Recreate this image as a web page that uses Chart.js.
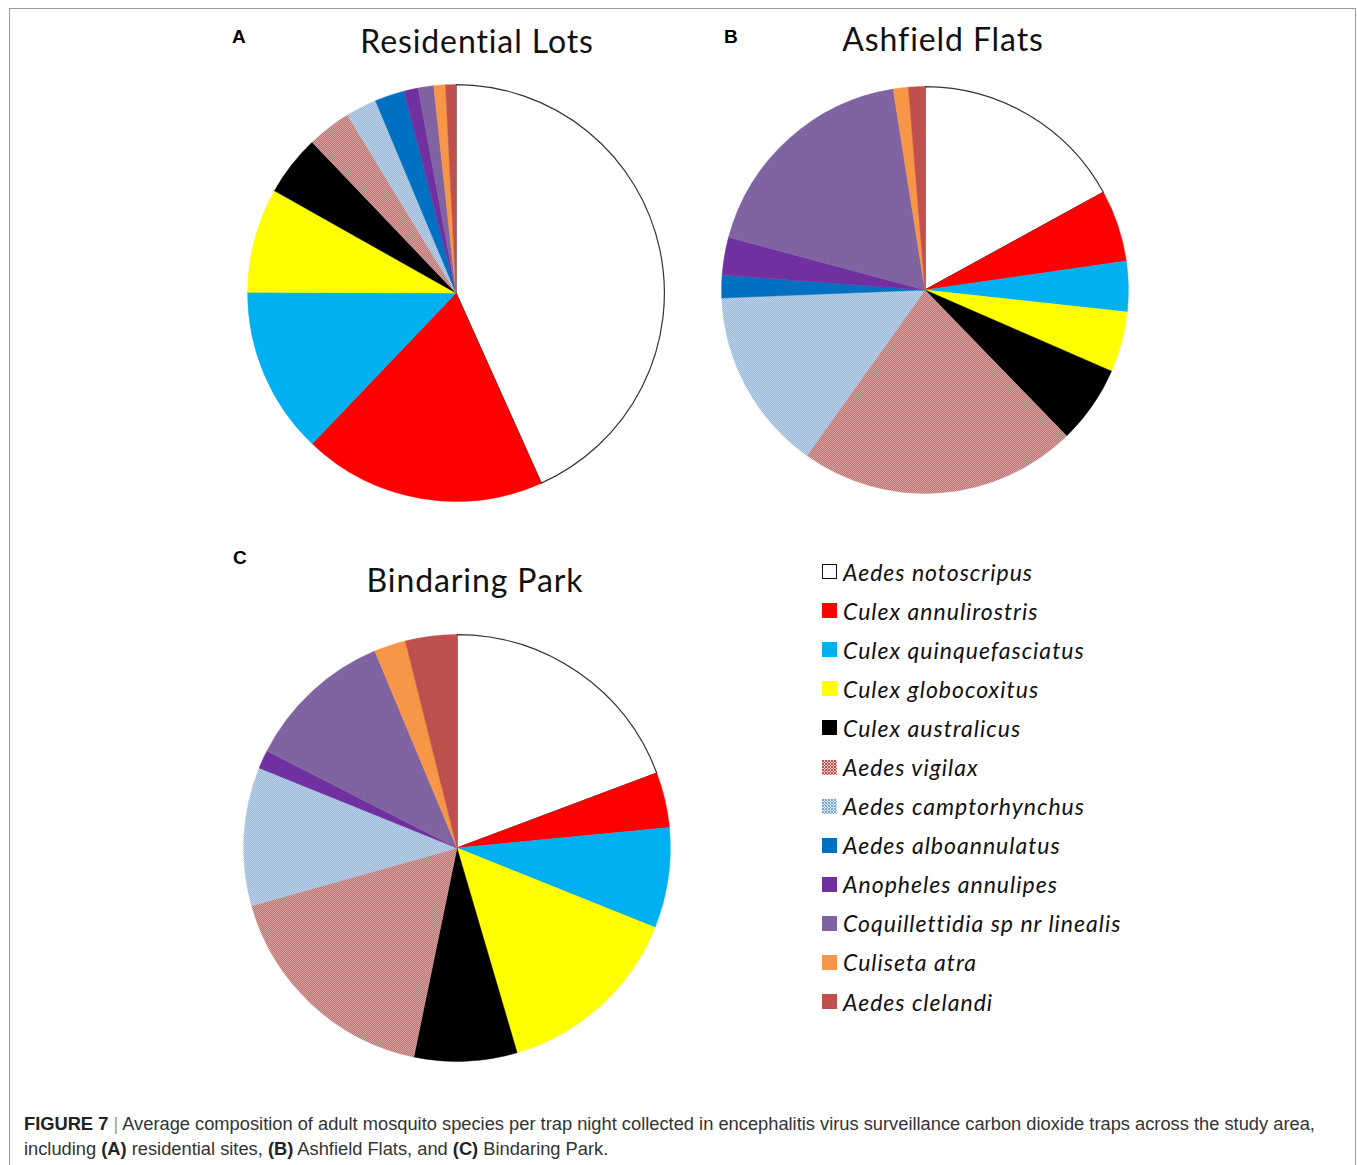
<!DOCTYPE html>
<html>
<head>
<meta charset="utf-8">
<script src="https://cdn.jsdelivr.net/npm/chart.js@4"></script>
<style>
  body { margin: 0; background: #fff; width: 1358px; height: 1165px; overflow: hidden; position: relative; }
  .frame { position: absolute; left: 9px; top: 8px; width: 1345px; height: 1200px; border: 1.5px solid #9a9a9a; border-bottom: none; }
  .pie { position: absolute; }
  .title { position: absolute; font-family: Lato, sans-serif; font-size: 32px; letter-spacing: 0.9px; color: #111; white-space: nowrap; transform: translateX(-50%); }
  .letter { position: absolute; font-family: "Liberation Sans", Arial, sans-serif; font-weight: bold; font-size: 19px; color: #000; }
  #legend { position: absolute; left: 822px; top: 552px; }
  .item { height: 39.1px; display: flex; align-items: center; font-family: Lato, sans-serif; font-style: italic; font-size: 23px; letter-spacing: 1px; color: #111; white-space: nowrap; }
  .box { width: 15px; height: 15px; margin-right: 6px; box-sizing: border-box; flex: none; }
  .caption { position: absolute; left: 24px; top: 1111px; width: 1310px; font-family: "Liberation Sans", Arial, sans-serif; font-size: 18.3px; line-height: 25px; color: #333; }
  .caption b { color: #222; }
  .sep { color: #999; }
</style>
</head>
<body>
<div class="frame"></div>

<div class="letter" style="left:232px; top:26px;">A</div>
<div class="letter" style="left:724px; top:26px;">B</div>
<div class="letter" style="left:233px; top:547px;">C</div>

<div class="title" style="left:477px; top:21px;">Residential Lots</div>
<div class="title" style="left:943px; top:19px;">Ashfield Flats</div>
<div class="title" style="left:475px; top:560px;">Bindaring Park</div>

<div class="pie" style="left:246px; top:83px; width:420px; height:420px;"><canvas id="pieA"></canvas></div>
<div class="pie" style="left:720px; top:85px; width:410px; height:410px;"><canvas id="pieB"></canvas></div>
<div class="pie" style="left:242px; top:633px; width:430px; height:430px;"><canvas id="pieC"></canvas></div>

<div id="legend"></div>

<div class="caption"><b>FIGURE 7</b> <span class="sep">|</span> Average composition of adult mosquito species per trap night collected in encephalitis virus surveillance carbon dioxide traps across the study area, including <b>(A)</b> residential sites, <b>(B)</b> Ashfield Flats, and <b>(C)</b> Bindaring Park.</div>

<script>
// species, in the order the slices run clockwise from 12 o'clock
const species = [
  'Aedes notoscripus', 'Culex annulirostris', 'Culex quinquefasciatus', 'Culex globocoxitus',
  'Culex australicus', 'Aedes vigilax', 'Aedes camptorhynchus', 'Aedes alboannulatus',
  'Anopheles annulipes', 'Coquillettidia sp nr linealis', 'Culiseta atra', 'Aedes clelandi'
];

// percent of catch per trap night
const residentialLots = [43.2, 18.8, 12.9, 8.1, 4.7, 3.4, 2.4, 2.3, 1.1, 1.2, 0.9, 0.8];
const ashfieldFlats   = [17.0, 5.7, 4.0, 4.8, 6.2, 22.1, 14.5, 1.8, 3.0, 18.3, 1.2, 1.3];
const bindaringPark   = [19.3, 4.2, 7.6, 14.4, 7.8, 17.4, 10.5, 0, 1.4, 11.2, 2.4, 3.9];

const baseColors = ['#ffffff', '#ff0000', '#00b0f0', '#ffff00', '#000000', '#c98a89',
  '#aac4df', '#0070c0', '#7030a0', '#8064a2', '#f79646', '#c0504d'];

// small checker tiles for the two hatched species
function makeTile(a, b) {
  const c = document.createElement('canvas');
  c.width = 2; c.height = 2;
  const g = c.getContext('2d');
  g.fillStyle = a; g.fillRect(0, 0, 2, 2);
  g.fillStyle = b; g.fillRect(0, 0, 1, 1); g.fillRect(1, 1, 1, 1);
  return c;
}
const tiles = { 5: makeTile('#d6a4a3', '#bc7270'), 6: makeTile('#bcd2e8', '#9cb8d8') };

function fills(ctx) {
  return baseColors.map((c, i) => tiles[i] ? ctx.createPattern(tiles[i], 'repeat') : c);
}

function drawPie(id, values) {
  const ctx = document.getElementById(id).getContext('2d');
  const bg = fills(ctx);
  new Chart(ctx, {
    type: 'pie',
    data: {
      labels: species,
      datasets: [{
        data: values,
        backgroundColor: bg,
        borderColor: bg.map((c, i) => i === 0 ? '#333333' : c),
        borderWidth: bg.map((c, i) => i === 0 ? 1.2 : 0.5)
      }]
    },
    options: {
      responsive: true,
      maintainAspectRatio: false,
      animation: false,
      layout: { padding: 1 },
      plugins: { legend: { display: false }, tooltip: { enabled: false } }
    }
  });
}

drawPie('pieA', residentialLots);
drawPie('pieB', ashfieldFlats);
drawPie('pieC', bindaringPark);

// shared legend
const legend = document.getElementById('legend');
species.forEach((name, i) => {
  const row = document.createElement('div');
  row.className = 'item';
  const box = document.createElement('div');
  box.className = 'box';
  if (tiles[i]) {
    box.style.backgroundImage = 'url(' + makeTile(i === 5 ? '#f2d0d0' : '#dfe9f5', i === 5 ? '#c0504d' : '#7fa6d2').toDataURL() + ')';
    box.style.backgroundSize = '3px 3px';
    box.style.imageRendering = 'pixelated';
  } else {
    box.style.background = baseColors[i];
  }
  if (i === 0) box.style.border = '1.5px solid #111';
  row.appendChild(box);
  const label = document.createElement('span');
  label.textContent = name;
  row.appendChild(label);
  legend.appendChild(row);
});
</script>
</body>
</html>
